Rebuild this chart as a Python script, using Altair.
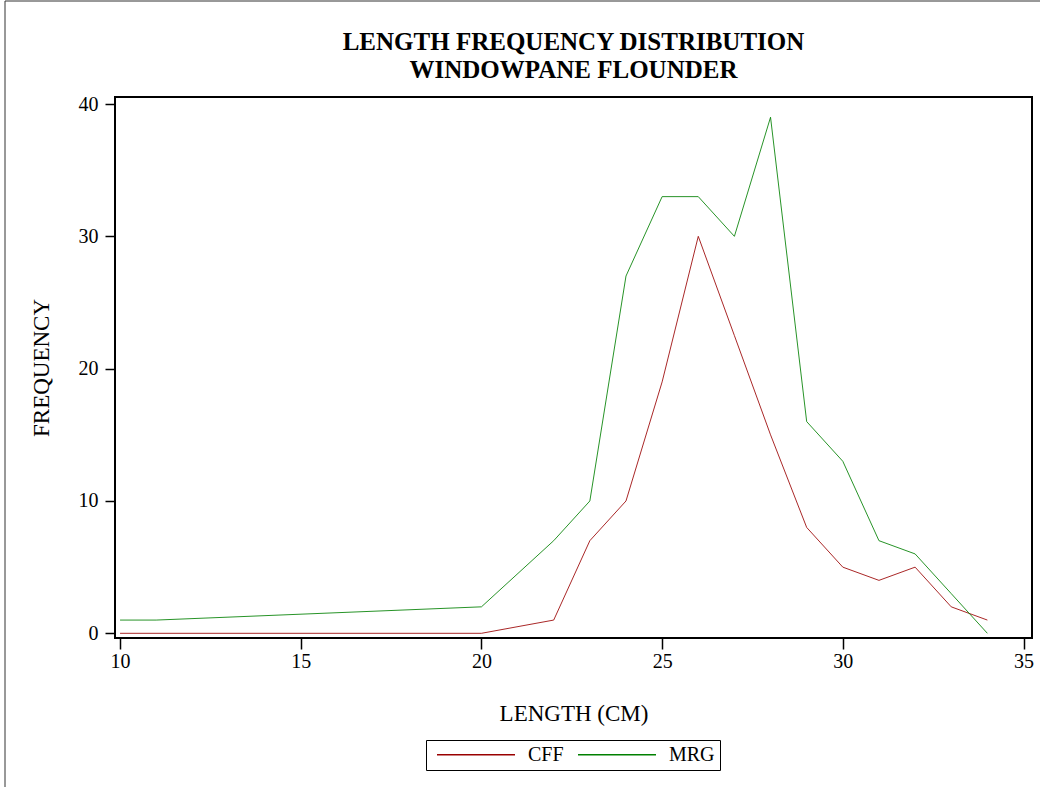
import altair as alt
import pandas as pd

# ---- data ----
cff_length = [10, 20, 22, 23, 24, 25, 26, 27, 28, 29, 30, 31, 32, 33, 34]
cff_freq = [0, 0, 1, 7, 10, 19, 30, 22.5, 15, 8, 5, 4, 5, 2, 1]

mrg_length = [10, 11, 20, 22, 23, 24, 25, 26, 27, 28, 29, 30, 31, 32, 33, 34]
mrg_freq = [1, 1, 2, 7, 10, 27, 33, 33, 30, 39, 16, 13, 7, 6, 3, 0]

series_names = ["CFF", "MRG"]
series_colors = ["#990000", "#008000"]
x_ticks = [10, 15, 20, 25, 30, 35]
y_ticks = [0, 10, 20, 30, 40]

rows = []
for l, f in zip(cff_length, cff_freq):
    rows.append({"length": l, "freq": f, "series": "CFF"})
for l, f in zip(mrg_length, mrg_freq):
    rows.append({"length": l, "freq": f, "series": "MRG"})
df = pd.DataFrame(rows)

FONT = "Liberation Serif"

lines = alt.Chart(df).mark_line(strokeWidth=0.85).encode(
    x=alt.X(
        "length:Q",
        scale=alt.Scale(domain=[9.86, 35.235], nice=False, zero=False),
        axis=alt.Axis(
            values=x_ticks,
            title="LENGTH (CM)",
            domain=False,
            grid=False,
            tickSize=11,
            tickWidth=1.5,
            tickColor="black",
            labelFont=FONT,
            labelFontSize=20,
            labelColor="black",
            labelPadding=2,
            titleFont=FONT,
            titleFontSize=23,
            titleFontWeight="normal",
            titleColor="black",
            titleY=82,
            titleBaseline="alphabetic",
        ),
    ),
    y=alt.Y(
        "freq:Q",
        scale=alt.Scale(domain=[-0.355, 40.53], nice=False, zero=False),
        axis=alt.Axis(
            values=y_ticks,
            title="FREQUENCY",
            domain=False,
            grid=False,
            tickSize=10,
            tickWidth=1.5,
            tickColor="black",
            labelFont=FONT,
            labelFontSize=20,
            labelColor="black",
            labelPadding=7,
            titleFont=FONT,
            titleFontSize=23,
            titleFontWeight="normal",
            titleColor="black",
            titleAngle=270,
            titleX=-67,
            titleY=270.5,
            titleBaseline="alphabetic",
            titleAlign="center",
        ),
    ),
    color=alt.Color(
        "series:N",
        scale=alt.Scale(domain=series_names, range=series_colors),
        legend=alt.Legend(
            title=None,
            orient="none",
            legendX=311,
            legendY=643,
            direction="horizontal",
            symbolType="stroke",
            symbolSize=6084,
            symbolStrokeWidth=1.5,
            clipHeight=19,
            labelFont=FONT,
            labelFontSize=20,
            labelColor="black",
            labelOffset=12,
            columnPadding=8,
            padding=5,
            symbolOffset=5,
            strokeColor="black",
        ),
    ),
)

frame_data = alt.Data(values=[{"a": 1}])
left_border = alt.Chart(frame_data).mark_rule(color="#333333", strokeWidth=1).encode(
    x=alt.value(-110), y=alt.value(-96), y2=alt.value(690)
)
top_border = alt.Chart(frame_data).mark_rule(color="#333333", strokeWidth=1).encode(
    x=alt.value(-110), x2=alt.value(925), y=alt.value(-96)
)

chart = alt.layer(lines, left_border, top_border).properties(
    width=917,
    height=541,
    autosize=alt.AutoSizeParams(type="none"),
    padding={"left": 115, "top": 97, "right": 10, "bottom": 149},
    title=alt.TitleParams(
        text=["LENGTH FREQUENCY DISTRIBUTION", "WINDOWPANE FLOUNDER"],
        font=FONT,
        fontSize=25,
        fontWeight="bold",
        color="black",
        anchor="middle",
        frame="group",
        lineHeight=28,
        offset=-82.5,
    ),
).configure(background="white").configure_view(stroke="black", strokeWidth=2)

chart.save("out.html", embed_options={"renderer": "svg", "actions": False})
